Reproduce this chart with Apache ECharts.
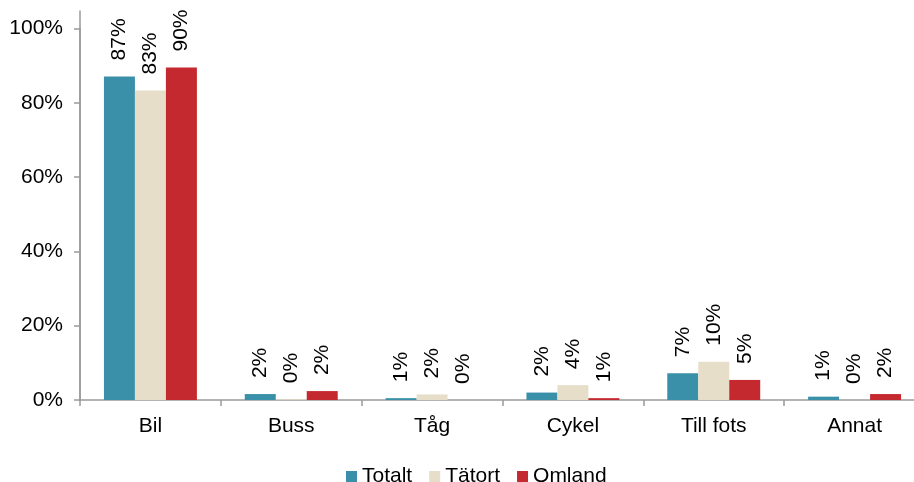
<!DOCTYPE html>
<html>
<head>
<meta charset="utf-8">
<script src="https://cdn.jsdelivr.net/npm/echarts@6/dist/echarts.min.js"></script>
<style>
  html, body { margin: 0; padding: 0; background: #fff; overflow: hidden; width: 914px; height: 482px; }
  #chart { width: 925px; height: 482px; }
</style>
</head>
<body>
<div id="chart"></div>
<script>
// Travel mode shares (percent) by area type
const categories = ['Bil', 'Buss', 'Tåg', 'Cykel', 'Till fots', 'Annat'];
const totalt  = [87.1, 1.6, 0.5, 2.0, 7.2, 0.9];
const tatort  = [83.3, 0.2, 1.5, 4.0, 10.3, 0.0];
const omland  = [89.5, 2.4, 0.0, 0.5, 5.4, 1.6];
const seriesNames = ['Totalt', 'Tätort', 'Omland'];
const yTicks = [0, 20, 40, 60, 80, 100];

const FONT = 'Liberation Sans, Arial, sans-serif';
const FS = 21;
const colors = ['#3a90a8', '#e6dec9', '#c4292f'];

const chart = echarts.init(document.getElementById('chart'), null, { renderer: 'canvas' });

const labelOpt = {
  show: true,
  position: 'top',
  rotate: 90,
  align: 'left',
  verticalAlign: 'middle',
  distance: 16,
  color: '#000',
  fontFamily: FONT,
  fontSize: FS,
  formatter: p => Math.round(p.value) + '%'
};

function bar(name, data, color) {
  return {
    name: name,
    type: 'bar',
    data: data,
    barGap: '0%',
    barCategoryGap: '34%',
    itemStyle: { color: color },
    label: labelOpt,
    emphasis: { disabled: true },
    xAxisIndex: 0,
    yAxisIndex: 0
  };
}

chart.setOption({
  animation: false,
  textStyle: { fontFamily: FONT },
  grid: [
    { left: 80, right: 0, top: 28.5, bottom: 82, containLabel: false },
    // extended vertical axis line above the top tick
    { left: 80, right: 0, top: 11, bottom: 82, containLabel: false }
  ],
  legend: {
    data: seriesNames,
    top: 461,
    left: 341,
    itemWidth: 11,
    itemHeight: 11,
    itemGap: 17,
    icon: 'rect',
    textStyle: { color: '#000', fontSize: FS, fontFamily: FONT }
  },
  xAxis: [
    {
      type: 'category',
      data: categories,
      gridIndex: 0,
      axisLine: { lineStyle: { color: '#9a9a9a', width: 1.5 } },
      axisTick: { show: true, length: 6, lineStyle: { color: '#9a9a9a', width: 1.5 } },
      axisLabel: { color: '#000', fontSize: FS, fontFamily: FONT, margin: 16 }
    },
    { type: 'category', data: categories, gridIndex: 1, show: false }
  ],
  yAxis: [
    {
      type: 'value',
      gridIndex: 0,
      min: yTicks[0],
      max: yTicks[yTicks.length - 1],
      interval: 20,
      splitLine: { show: false },
      axisLine: { show: true, lineStyle: { color: '#9a9a9a', width: 1.5 } },
      axisTick: { show: true, length: 6, lineStyle: { color: '#9a9a9a', width: 1.5 } },
      axisLabel: { color: '#000', fontSize: FS, fontFamily: FONT, margin: 17, formatter: v => v + '%' }
    },
    {
      type: 'value',
      gridIndex: 1,
      min: 0,
      max: 100,
      splitLine: { show: false },
      axisLine: { show: true, lineStyle: { color: '#9a9a9a', width: 1.5 } },
      axisTick: { show: false },
      axisLabel: { show: false }
    }
  ],
  series: [
    bar(seriesNames[0], totalt, colors[0]),
    bar(seriesNames[1], tatort, colors[1]),
    bar(seriesNames[2], omland, colors[2])
  ]
});
</script>
</body>
</html>
